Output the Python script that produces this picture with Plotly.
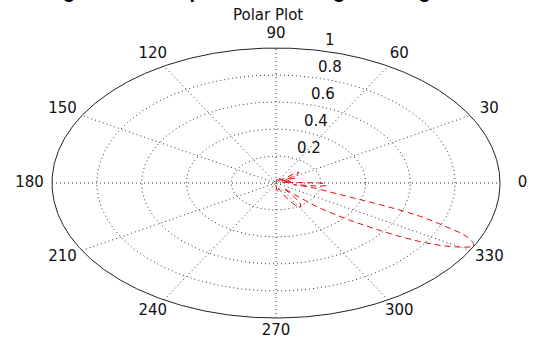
import numpy as np
import plotly.graph_objects as go

# ---- data ----
theta_deg = [-90, -86, -82, -78, -74, -70, -66, -62, -58, -55, -52, -50, -48, -46, -44, -42,
             -40, -38, -36, -34, -32, -30, -29, -28, -27, -26, -25, -24, -23, -22, -21, -20,
             -19, -18, -17, -16, -14, -12, -10, -9, -8, -7, -6, -5, -4, -3, -2, -1, 0, 1, 2,
             4, 6, 8, 10, 12, 14, 16, 18, 20, 22, 24, 26, 28, 30, 32, 34, 36, 38, 40, 42, 44,
             48, 52, 56, 60, 65, 70, 75, 80, 85, 90]
r_vals = [0.02, 0.05, 0.07, 0.06, 0.04, 0.08, 0.14, 0.19, 0.21, 0.19, 0.14, 0.09, 0.05, 0.12,
          0.25, 0.33, 0.43, 0.53, 0.66, 0.78, 0.88, 0.95, 0.98, 1.0, 0.99, 0.97, 0.94, 0.89,
          0.83, 0.76, 0.69, 0.60, 0.49, 0.40, 0.34, 0.29, 0.22, 0.17, 0.12, 0.08, 0.11, 0.19,
          0.22, 0.225, 0.225, 0.22, 0.22, 0.21, 0.20, 0.16, 0.10, 0.03, 0.05, 0.07, 0.06,
          0.03, 0.04, 0.05, 0.05, 0.08, 0.09, 0.09, 0.07, 0.03, 0.06, 0.09, 0.11, 0.125, 0.13,
          0.12, 0.08, 0.03, 0.05, 0.04, 0.02, 0.03, 0.04, 0.03, 0.02, 0.03, 0.02, 0.01]

r_ticks = [0.2, 0.4, 0.6, 0.8, 1.0]
r_tick_labels = ["0.2", "0.4", "0.6", "0.8", "1"]
angle_ticks = [0, 30, 60, 90, 120, 150, 180, 210, 240, 270, 300, 330]
angle_tick_labels = [str(a) for a in angle_ticks]
subtitle = "Polar Plot"
top_title = "Resulting ideal beam pattern Tracking Steering"

W, H = 534, 338
CX, CY = 276, 183        # pixel centre of the polar frame
RX, RY = 224, 135        # pixel size of unit radius (horizontal / vertical)

tick_font = dict(family="DejaVu Sans", size=15, color="#111111")
grid_col = "#333333"

fig = go.Figure()

# circles
phi = np.linspace(0, 2 * np.pi, 721)
for rv in r_ticks:
    outer = rv == r_ticks[-1]
    fig.add_trace(go.Scatter(
        x=rv * np.cos(phi), y=rv * np.sin(phi), mode="lines",
        line=dict(color="#222222" if outer else grid_col, width=1,
                  dash="solid" if outer else "1px,3px"),
        hoverinfo="skip"))

# spokes
rmax = r_ticks[-1]
for a in angle_ticks[:6]:
    t = np.deg2rad(a)
    fig.add_trace(go.Scatter(
        x=[-rmax * np.cos(t), rmax * np.cos(t)], y=[-rmax * np.sin(t), rmax * np.sin(t)],
        mode="lines", line=dict(color=grid_col, width=1, dash="1px,3px"), hoverinfo="skip"))

# data
th = np.deg2rad(np.array(theta_deg))
rr = np.array(r_vals)
fig.add_trace(go.Scatter(
    x=rr * np.cos(th), y=rr * np.sin(th), mode="lines",
    line=dict(color="#e01010", width=1, dash="6px,4px"), hoverinfo="skip"))

# angle labels
ta = np.deg2rad(np.array(angle_ticks))
fig.add_trace(go.Scatter(
    x=1.1 * rmax * np.cos(ta), y=1.1 * rmax * np.sin(ta), mode="text",
    text=angle_tick_labels, textposition="middle center", textfont=tick_font,
    hoverinfo="skip"))

annotations = []
for rv, lab in zip(r_ticks, r_tick_labels):
    annotations.append(dict(
        x=0.054 + 0.156 * rv, y=rv + 0.06, xref="x", yref="y", text=lab,
        showarrow=False, xanchor="left", yanchor="middle", font=tick_font))

annotations.append(dict(
    x=268 / W, y=1 - 15 / H, xref="paper", yref="paper", text=subtitle, showarrow=False,
    xanchor="center", yanchor="middle", font=dict(family="DejaVu Sans", size=15, color="#111111")))

annotations.append(dict(
    x=-18 / W, y=1 - 4 / H, xref="paper", yref="paper", text="<b>" + top_title + "</b>",
    showarrow=False, xanchor="left", yanchor="bottom",
    font=dict(family="Liberation Sans", size=20, color="#000000")))

fig.update_layout(
    width=W, height=H, margin=dict(l=0, r=0, t=0, b=0),
    paper_bgcolor="white", plot_bgcolor="white", showlegend=False,
    xaxis=dict(visible=False, range=[-CX / RX, (W - CX) / RX], fixedrange=True),
    yaxis=dict(visible=False, range=[-(H - CY) / RY, CY / RY], fixedrange=True),
    annotations=annotations)

fig.write_html("out.html")
